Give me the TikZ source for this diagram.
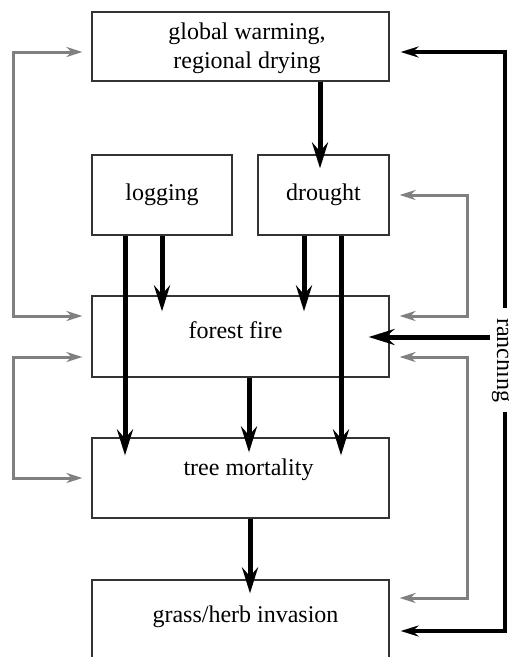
\documentclass[tikz,border=0pt]{standalone}
\usepackage{fontspec}
\setmainfont{Liberation Serif}
\usetikzlibrary{arrows.meta}
\begin{document}
\begin{tikzpicture}[x=1pt,y=-1pt,
  box/.style={draw=black!80, line width=1.2pt, inner sep=0pt},
  txt/.style={anchor=base, inner sep=0pt, font=\fontsize{24}{29}\selectfont},
  barr/.style={line width=5pt, -{Stealth[length=26pt,width=16pt,inset=9pt]}},
  garr/.style={draw=black!50, line width=3pt,
    {Stealth[length=16pt,width=10pt,inset=5pt]}-{Stealth[length=16pt,width=10pt,inset=5pt]}},
  rarr/.style={line width=4pt, -{Stealth[length=18pt,width=11pt,inset=6pt]}}]
\clip (0,0) rectangle (509,657);
% boxes
\node[box, minimum width=297pt, minimum height=69pt] (gw) at (240.5,46.5) {};
\node[box, minimum width=140pt, minimum height=80pt] (lg) at (162,195) {};
\node[box, minimum width=131pt, minimum height=80pt] (dr) at (323.5,195) {};
\node[box, minimum width=297pt, minimum height=81pt] (ff) at (240.5,336.5) {};
\node[box, minimum width=297pt, minimum height=80pt] (tm) at (240.5,478) {};
\node[box, minimum width=297pt, minimum height=100pt] (gr) at (240.5,630) {};
% texts
\node[txt] (t1) at (247,39) {global warming,};
\node[txt] (t2) at (247,68) {regional drying};
\node[txt] (t3) at (162,200) {logging};
\node[txt] (t4) at (323.5,200) {drought};
\node[txt] (t5) at (235.5,338) {forest fire};
\node[txt] (t6) at (248.5,475) {tree mortality};
\node[txt] (t7) at (245.5,622) {grass/herb invasion};
\node[txt, rotate=-90, inner xsep=10pt, inner ysep=2pt] (ra) at (497,360) {ranching};
% black vertical arrows
\draw[barr] (gw.south -| 320,0) -- ([yshift=-14pt]dr.north -| 320,0);
\draw[barr] (lg.south -| 162,0) -- ([yshift=-16pt]ff.north -| 162,0);
\draw[barr] (lg.south -| 125,0) -- ([yshift=-18pt]tm.north -| 125,0);
\draw[barr] (dr.south -| 304,0) -- ([yshift=-16pt]ff.north -| 304,0);
\draw[barr] (dr.south -| 341,0) -- ([yshift=-18pt]tm.north -| 341,0);
\draw[barr] (ff.south -| 249,0) -- ([yshift=-15pt]tm.north -| 249,0);
\draw[barr] (tm.south -| 250,0) -- ([yshift=-14pt]gr.north -| 250,0);
% grey feedback loops
\draw[garr] ([xshift=-9pt]ff.west |- 0,316) -- ++(-69,0) |- ([xshift=-9pt]gw.west |- 0,52);
\draw[garr] ([xshift=-9pt]ff.west |- 0,357) -- ++(-69,0) |- ([xshift=-9pt]tm.west |- 0,478);
\draw[garr] ([xshift=10pt]dr.east |- 0,195) -- ++(68,0) |- ([xshift=10pt]ff.east |- 0,316);
\draw[garr] ([xshift=10pt]ff.east |- 0,357) -- ++(68,0) |- ([xshift=10pt]gr.east |- 0,598);
% ranching
\draw[rarr] (ra.west -| 505,0) |- ([xshift=11pt]gw.east |- 0,52);
\draw[rarr] (ra.east -| 505,0) |- ([xshift=11pt]gr.east |- 0,631);
\draw[barr] (ra.south |- 0,337) -- ([xshift=-21pt]ff.east |- 0,337);
\end{tikzpicture}
\end{document}
